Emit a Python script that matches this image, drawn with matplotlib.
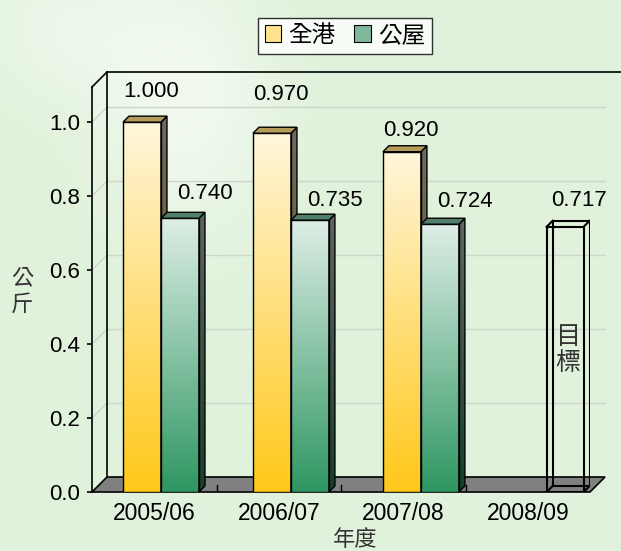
import numpy as np
import matplotlib
matplotlib.use('Agg')
import matplotlib.pyplot as plt
from matplotlib.patches import Polygon, Patch

# data
years = ['2005/06', '2006/07', '2007/08', '2008/09']
all_hk = [1.000, 0.970, 0.920]
public = [0.740, 0.735, 0.724]
target = 0.717
series_names = ['全港', '公屋']
ylabel = '公\n斤'
xlabel = '年度'
target_text = '目\n標'

plt.rcParams['font.family'] = ['Liberation Sans', 'Noto Sans CJK TC', 'DejaVu Sans']

W, H = 621, 551
fig = plt.figure(figsize=(W / 100, H / 100), dpi=100)

# ---- background (light green with a pale blur top-left) ----
bg = fig.add_axes([0, 0, 1, 1], zorder=-10)
bg.set_axis_off()
yy, xx = np.mgrid[0:1:H * 1j, 0:1:W * 1j]
base = np.array([224, 242, 219]) / 255
blob = np.exp(-((xx - 0.30) ** 2 / 0.02 + (yy - 0.18) ** 2 / 0.06))
blob2 = np.exp(-((xx - 0.10) ** 2 / 0.02 + (yy - 0.05) ** 2 / 0.02))
img = base + (1 - base) * np.clip(0.55 * blob + 0.35 * blob2, 0, 1)[..., None]
bg.imshow(img, extent=[0, 1, 0, 1], aspect='auto', origin='upper')

# ---- main axes (front plane) ----
ymax = 1.095
ax = fig.add_axes([92 / W, 59 / H, 498 / W, 405 / H])
ax.set_xlim(-0.5, 3.5)
ax.set_ylim(0, ymax)
ax.set_autoscale_on(False)
ax.set_facecolor('none')
for s in ['top', 'right', 'bottom']:
    ax.spines[s].set_visible(False)
ax.spines['left'].set_linewidth(1.2)

# pixel -> data conversion for the fake 3d depth
pxx = ax.bbox.width / 4.0
pxy = ax.bbox.height / ymax
wall_dx, wall_dy = 15 / pxx, 15 / pxy
bar_dx, bar_dy = 6 / pxx, 6 / pxy

yticks = np.arange(0, 1.01, 0.2)
grid_c = '#cdd5cd'
for t in yticks[1:]:
    ax.plot([-0.5 + wall_dx, 3.5 + wall_dx], [t + wall_dy] * 2, color=grid_c, lw=1, zorder=1, clip_on=False)
    ax.plot([-0.5, -0.5 + wall_dx], [t, t + wall_dy], color=grid_c, lw=1, zorder=1, clip_on=False)

# back wall edges
ax.plot([-0.5 + wall_dx] * 2, [wall_dy, ymax + wall_dy], color='k', lw=1.2, zorder=1, clip_on=False)
ax.plot([-0.5 + wall_dx, 3.5 + wall_dx + 0.25], [ymax + wall_dy] * 2, color='k', lw=1.2, zorder=1, clip_on=False)
ax.plot([-0.5, -0.5 + wall_dx], [ymax, ymax + wall_dy], color='k', lw=1.2, zorder=1, clip_on=False)

# floor
floor = Polygon([(-0.5, 0), (3.5, 0), (3.5 + wall_dx, wall_dy), (-0.5 + wall_dx, wall_dy)],
                closed=True, facecolor='#808080', edgecolor='k', lw=1.2, zorder=2, clip_on=False)
ax.add_patch(floor)
for xb in [0.5, 1.5, 2.5]:
    ax.plot([xb, xb], [0, wall_dy * 0.5], color='k', lw=1, zorder=2)


def gradient(top, bot, n=256):
    top = np.array(top) / 255
    bot = np.array(bot) / 255
    f = np.linspace(0, 1, n)[:, None, None]
    return top + (bot - top) * f


yellow = ((255, 246, 219), (255, 200, 25), '#b49c5c')
green = ((222, 238, 230), (46, 150, 98), '#4f7e6a')
w = 0.305
shade = 0.43


def draw_bar(xc, h, style, zo):
    top_c, bot_c, top_face = style
    x0, x1 = xc - w / 2, xc + w / 2
    ax.imshow(gradient(top_c, bot_c), extent=[x0, x1, 0, h], origin='upper',
              aspect='auto', zorder=zo, interpolation='bilinear')
    ax.bar(xc, h, w, color='none', edgecolor='k', lw=1, zorder=zo + 0.2)
    side = Polygon([(x1, 0), (x1 + bar_dx, bar_dy), (x1 + bar_dx, h + bar_dy), (x1, h)],
                   closed=True, facecolor='none', edgecolor='k', lw=1, zorder=zo + 0.2)
    ax.add_patch(side)
    sim = ax.imshow(gradient(np.array(top_c) * shade, np.array(bot_c) * shade),
                    extent=[x1, x1 + bar_dx, 0, h + bar_dy], origin='upper',
                    aspect='auto', zorder=zo + 0.1, interpolation='bilinear')
    sim.set_clip_path(side)
    topf = Polygon([(x0, h), (x1, h), (x1 + bar_dx, h + bar_dy), (x0 + bar_dx, h + bar_dy)],
                   closed=True, facecolor=top_face, edgecolor='k', lw=1, zorder=zo + 0.2)
    ax.add_patch(topf)


group_c = [0.054 + 1.044 * i for i in range(len(years))]
y_lab_dy = [31, 39, 21]
g_lab_dy = [25, 20, 23]
for i in range(len(all_hk)):
    draw_bar(group_c[i] - w / 2, all_hk[i], yellow, 3 + i)
    draw_bar(group_c[i] + w / 2, public[i], green, 3.5 + i)
    ax.annotate(f'{all_hk[i]:.3f}', (group_c[i] - w / 2, all_hk[i]), xytext=(9, y_lab_dy[i]),
                textcoords='offset pixels', ha='center', va='center', fontsize=16, zorder=10)
    ax.annotate(f'{public[i]:.3f}', (group_c[i] + w / 2, public[i]), xytext=(25, g_lab_dy[i]),
                textcoords='offset pixels', ha='center', va='center', fontsize=16, zorder=10)

# target wireframe bar
xt = group_c[3] + 0.114
wt = 0.297
ax.bar(xt, target, wt, fill=False, edgecolor='k', lw=1.5, zorder=8)
ax.bar(xt + bar_dx, target, wt, bottom=bar_dy, fill=False, edgecolor='k', lw=1.5, zorder=8)
for cx in [xt - wt / 2, xt + wt / 2]:
    for cy in [0, target]:
        ax.plot([cx, cx + bar_dx], [cy, cy + bar_dy], color='k', lw=1.5, zorder=8)
ax.annotate(f'{target:.3f}', (xt, target), xytext=(14, 26), textcoords='offset pixels',
            ha='center', va='center', fontsize=16, zorder=10)
ax.text(xt + bar_dx / 2, 0.384, target_text, ha='center', va='center', fontsize=18,
        color='#333333', linespacing=1.1, zorder=10, fontweight='light')

# axes ticks
ax.set_yticks(yticks)
ax.set_yticklabels([f'{v:.1f}' for v in yticks])
ax.tick_params(axis='y', direction='out', length=3.6, width=1.2, labelsize=16, pad=5)
ax.set_xticks(range(len(years)))
ax.set_xticklabels(years)
ax.tick_params(axis='x', length=0, labelsize=16.5, pad=7)

fig.text(355 / W, 1 - 540 / H, xlabel, ha='center', va='center', fontsize=16, color='#333333',
         fontweight='light')
fig.text(22 / W, 1 - 292 / H, ylabel, ha='center', va='center', fontsize=16, color='#333333',
         linespacing=1.3, fontweight='light')

handles = [Patch(facecolor='#ffe38c', edgecolor='k', lw=0.8),
           Patch(facecolor='#7fb89a', edgecolor='k', lw=0.8)]
leg = fig.legend(handles, series_names, loc='center', bbox_to_anchor=(345 / W, 1 - 36 / H),
                 ncol=2, frameon=True, fancybox=False, edgecolor='k',
                 prop={'size': 17, 'weight': 'light'},
                 handlelength=0.7, handleheight=0.7, handletextpad=0.3, columnspacing=0.8,
                 borderpad=0.3, borderaxespad=0)
leg.get_frame().set_linewidth(1)
leg.get_frame().set_facecolor('white')

fig.savefig('out.png', dpi=100)
